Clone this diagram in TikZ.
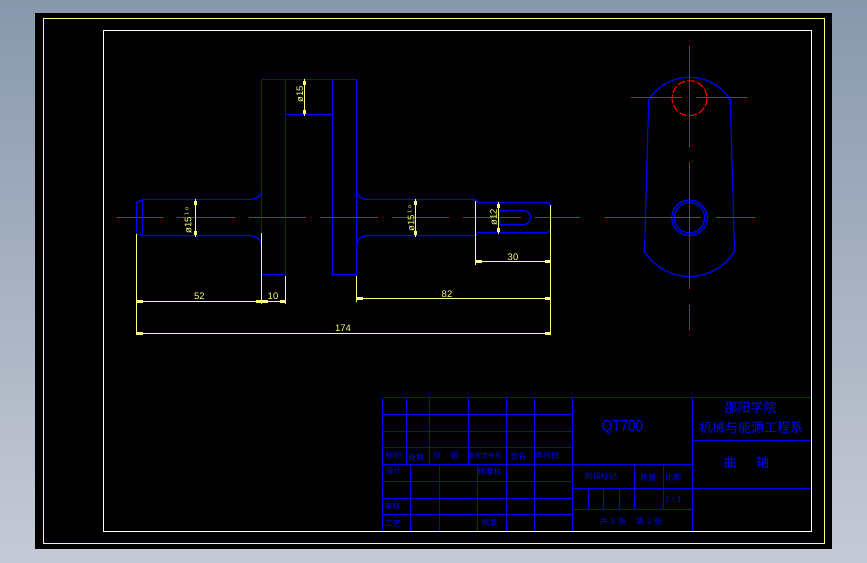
\documentclass[tikz,border=0pt]{standalone}
\usepackage{fontspec}
\setmainfont{Liberation Sans}
\newfontfamily\cjk{Noto Sans CJK SC}
\definecolor{cadblue}{RGB}{0,0,255}
\definecolor{cadred}{RGB}{255,0,0}
\definecolor{cadyel}{RGB}{255,255,128}
\definecolor{bgtop}{RGB}{136,152,172}
\definecolor{bgbot}{RGB}{198,202,214}
\tikzset{
  part/.style={draw=cadblue,line width=1.15pt},
  grid/.style={draw=cadblue,line width=1.15pt},
  centerl/.style={draw=cadred,line width=1.1pt},
  dimen/.style={draw=cadyel,line width=1.15pt},
  tick/.style={draw=cadyel,line width=2.2pt},
  dimtext/.style={text=cadyel,font=\fontsize{9.5}{9.5}\selectfont,inner sep=0pt},
  tabtext/.style={text=cadblue,font=\cjk\fontsize{8}{9}\selectfont,inner sep=0pt},
  bigtext/.style={text=cadblue,font=\cjk\fontsize{13}{14}\selectfont,inner sep=0pt},
}
\newcommand{\hdim}[3]{% x1 x2 y
  \draw[dimen] (#1,#3) -- (#2,#3);
  \draw[tick] (#1,#3) -- ++(6,0);
  \draw[tick] (#2,#3) -- ++(-6,0);
}
\newcommand{\vdim}[3]{% x y1 y2
  \draw[dimen] (#1,#2-1) -- (#1,#3+1);
  \draw[tick] (#1,#2+1) -- ++(0,4);
  \draw[tick] (#1,#3-1) -- ++(0,-4);
}
\begin{document}
\begin{tikzpicture}[x=1pt,y=-1pt]
\useasboundingbox (0,0) rectangle (867,562);
\shade[top color=bgtop,bottom color=bgbot] (0,0) rectangle (867,562);
\fill[black] (35,13) rectangle (832,549);
\draw[cadyel,line width=1.15pt] (43.5,18.5) rectangle (824.5,543.5);

% centre lines
\draw[centerl] (117,217.5) -- (163,217.5) (177,217.5) -- (235,217.5) (249,217.5) -- (306,217.5)
  (320,217.5) -- (378,217.5) (392,217.5) -- (449,217.5) (463,217.5) -- (521,217.5) (535,217.5) -- (580,217.5);
\draw[centerl] (689.5,46) -- (689.5,146.7) (689.5,161.7) -- (689.5,289) (689.5,305) -- (689.5,330);
\draw[centerl] (631,97.5) -- (681.7,97.5) (696,97.5) -- (746.7,97.5);
\draw[centerl] (605,217.5) -- (701,217.5) (715.7,217.5) -- (755,217.5);

% crank
\draw[part] (261.5,79.5) -- (356.5,79.5);
\draw[part] (261.5,79.5) -- (261.5,274.5) -- (285.5,274.5) -- (285.5,79.5);
\draw[part] (332.5,79.5) -- (332.5,274.5) -- (356.5,274.5) -- (356.5,79.5);
\draw[part] (285.5,114.5) -- (332.5,114.5);
% left journal
\draw[part] (136.5,233.5) -- (136.5,202.7) -- (142.5,199.5) -- (249.5,199.5)
  .. controls (255,199.5) and (261.5,197) .. (261.5,191.7);
\draw[part] (136.5,233.5) -- (142.5,235.5) -- (249.5,235.5)
  .. controls (255,235.5) and (261.5,239) .. (261.5,245);
\draw[part] (142.5,199.5) -- (142.5,235.5);
% right journal
\draw[part] (356.5,190) .. controls (356.5,195) and (361,199.5) .. (367,199.5) -- (475.5,199.5) -- (478,202.5);
\draw[part] (356.5,247) .. controls (356.5,240) and (361,235.5) .. (367,235.5) -- (475.5,235.5) -- (478,232.5);
% key end
\draw[part] (478,202.5) -- (547.5,202.5) -- (550.5,205) -- (550.5,229.5) -- (547.5,232.5) -- (478,232.5);
% keyway
\draw[part] (523,210.5) -- (499.5,210.5) -- (499.5,224.5) -- (523,224.5)
  .. controls (528,224.5) and (530.5,221) .. (530.5,217.5)
  .. controls (530.5,214) and (528,210.5) .. (523,210.5);

% side view
\draw[part] (644.5,251.5) -- (648.7,100) arc[start angle=211.8,end angle=328.2,radius=48]
  -- (734.5,251.5) arc[start angle=31.9,end angle=148.1,radius=53];
\draw[part] (689.5,217.7) circle[radius=17.7];
\draw[part] (689.5,217.7) circle[radius=15.2];
\draw[cadred,line width=1.1pt,dash pattern=on 8pt off 2pt] (689.5,98.2) circle[radius=17.5];

% extension lines
\draw[dimen] (136.5,233.5) -- (136.5,335);
\draw[dimen] (261.5,233) -- (261.5,303.5);
\draw[dimen] (285.5,276) -- (285.5,303.5);
\draw[dimen] (356.5,276) -- (356.5,301.7);
\draw[dimen] (475.5,201) -- (475.5,264.7);
\draw[dimen] (550.5,205) -- (550.5,335);

% dimensions
\hdim{136.5}{261.5}{301.5}
\node[dimtext] (d52) at (199.3,296.5) {52};
\hdim{261.5}{285.5}{301.5}
\node[dimtext] (d10) at (273,296.5) {10};
\hdim{356.5}{550.5}{298.5}
\node[dimtext] (d82) at (447,294.5) {82};
\hdim{475.5}{550.5}{261.5}
\node[dimtext] (d30) at (513,257.5) {30};
\hdim{136.5}{550.5}{333.5}
\node[dimtext] (d174) at (343,328) {174};
\vdim{195.5}{199.5}{235.5}
\node[dimtext,rotate=90] (p1) at (188,220.5) {ø15\raisebox{3pt}{\fontsize{5.5}{5.5}\selectfont\ 1\ o}};
\vdim{415.5}{199.5}{235.5}
\node[dimtext,rotate=90] (p2) at (411,218.5) {ø15\raisebox{3pt}{\fontsize{5.5}{5.5}\selectfont\ 1\ o}};
\vdim{304.5}{79.5}{114.5}
\node[dimtext,rotate=90] (p3) at (300,94) {ø15};
\vdim{498.5}{202.5}{232.5}
\node[dimtext,rotate=90] (p4) at (493.7,217) {ø12};

% title block
\draw[grid] (382.5,397.5) -- (811.5,397.5);
\draw[grid] (382.5,397.5) -- (382.5,531.5);
\draw[grid] (572.5,397.5) -- (572.5,531.5);
\draw[grid] (692.5,397.5) -- (692.5,531.5);
\foreach \yy in {414.5,431.5,447.5,464.5,481.5,498.5,514.5} \draw[grid] (382.5,\yy) -- (572.5,\yy);
\foreach \xx in {406.5,429.5,468.5} \draw[grid] (\xx,397.5) -- (\xx,464.5);
\foreach \xx in {506.5,534.5} \draw[grid] (\xx,397.5) -- (\xx,531.5);
\foreach \xx in {410.5,439.5,477.5} \draw[grid] (\xx,464.5) -- (\xx,531.5);
\draw[grid] (572.5,464.5) -- (692.5,464.5);
\draw[grid] (572.5,488.5) -- (811.5,488.5);
\draw[grid] (572.5,509.5) -- (692.5,509.5);
\draw[grid] (692.5,440.5) -- (811.5,440.5);
\foreach \xx in {634.5,663.5} \draw[grid] (\xx,464.5) -- (\xx,509.5);
\foreach \xx in {588.5,603.5,619.5} \draw[grid] (\xx,488.5) -- (\xx,509.5);
% sheet border lies over the block
\draw[white,line width=1.15pt] (103.5,30.5) rectangle (811.5,531.5);

% title block texts
\node[tabtext] (t1) at (393.7,455.7) {标记};
\node[tabtext] (t2) at (416.3,457.7) {处数};
\node[tabtext] (t3) at (446.3,456) {分\hspace{10pt}区};
\node[tabtext,font=\cjk\fontsize{6.8}{7}\selectfont] (t4) at (484.7,455.7) {更改文件号};
\node[tabtext] (t5) at (518.3,456) {签名};
\node[tabtext] (t6) at (547,455.7) {年月日};
\node[tabtext] (t7) at (393.7,470.7) {设计};
\node[tabtext] (t8) at (489.7,471.7) {标准化};
\node[tabtext] (t9) at (392.3,506.3) {审核};
\node[tabtext] (t10) at (393,523) {工艺};
\node[tabtext] (t11) at (489.7,522) {批准};
\node[tabtext] (t12) at (601,476.7) {阶段标记};
\node[tabtext] (t13) at (648.3,477) {质量};
\node[tabtext] (t14) at (673,477) {比例};
\node[tabtext] (t15) at (673.3,499.3) {1\hspace{3pt}:\hspace{3pt}1};
\node[tabtext] (t16) at (631,521) {共\hspace{3pt}3\hspace{3pt}张\hspace{10pt}第\hspace{3pt}2\hspace{3pt}张};
\node[text=cadblue,font=\fontsize{16}{16}\selectfont,inner sep=0pt,xscale=0.84] (t17) at (622.5,427.7) {QT700};
\node[bigtext] (t18) at (750.7,407.7) {邵阳学院};
\node[bigtext] (t19) at (751,427.7) {机械与能源工程系};
\node[bigtext] (t20) at (730,462.7) {曲};
\node[bigtext] (t21) at (762.5,462.7) {轴};
\end{tikzpicture}
\end{document}
